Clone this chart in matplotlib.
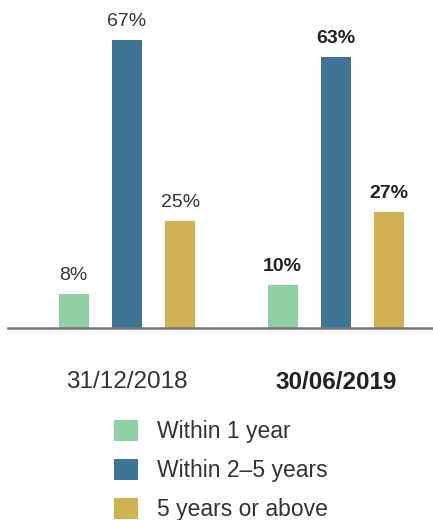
import matplotlib.pyplot as plt
import numpy as np
from matplotlib.patches import Patch

plt.rcParams["font.family"] = ["Liberation Sans", "DejaVu Sans"]

periods = ["31/12/2018", "30/06/2019"]
series_names = ["Within 1 year", "Within 2\u20135 years", "5 years or above"]
within_1 = [8, 10]
within_2_5 = [67, 63]
above_5 = [25, 27]
colors = ["#8ECFA3", "#3F7594", "#D1B252"]

fig = plt.figure(figsize=(4.33, 5.2), dpi=100)
ax = fig.add_axes([8 / 433, 192 / 520, 425 / 433, 301 / 520])

x = np.arange(len(periods))
offset = 0.255
width = 0.1435

for i, (vals, col) in enumerate(zip([within_1, within_2_5, above_5], colors)):
    bars = ax.bar(x + (i - 1) * offset, vals, width, color=col, zorder=2)
    labels = ax.bar_label(bars, labels=[f"{v}%" for v in vals], padding=7,
                          fontsize=14, color="#333333")
    labels[1].set_fontweight("bold")
    labels[1].set_color("#222222")

ax.set_xlim(-0.569, 1.464)
ax.set_ylim(0, 70)
ax.set_xticks(x)
ax.set_xticklabels(periods, fontsize=17.5, color="#333333")
ax.get_xticklabels()[1].set_fontweight("bold")
ax.get_xticklabels()[1].set_color("#222222")
ax.tick_params(axis="x", length=0, pad=31)
ax.set_yticks([])
for s in ["top", "left", "right"]:
    ax.spines[s].set_visible(False)
ax.spines["bottom"].set_color("#777777")
ax.spines["bottom"].set_linewidth(1.8)
ax.spines["bottom"].set_zorder(3)

handles = [Patch(facecolor=c, edgecolor="none") for c in colors]
fig.legend(handles, series_names, loc="upper left", bbox_to_anchor=(105 / 433, 1 - 411 / 520),
           frameon=False, fontsize=16.5, handlelength=1.02, handleheight=1.02,
           handletextpad=0.85, labelspacing=0.68, borderaxespad=0, labelcolor="#333333")

fig.savefig("out.png", dpi=100)
